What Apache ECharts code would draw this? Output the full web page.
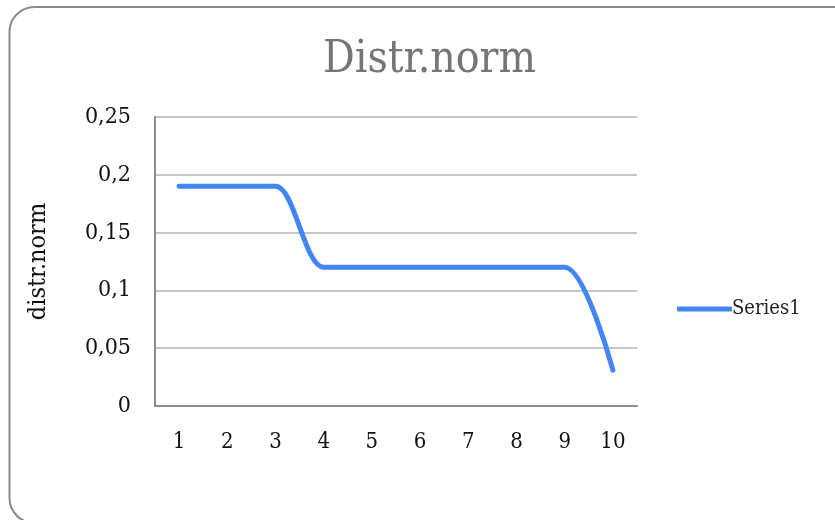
<!DOCTYPE html>
<html>
<head>
<meta charset="utf-8">
<script src="https://cdn.jsdelivr.net/npm/echarts@6/dist/echarts.min.js"></script>
<style>
html,body{margin:0;padding:0;background:#fff;}
#chart{width:835px;height:520px;}
</style>
</head>
<body>
<div id="chart"></div>
<script>
const categories = ['1','2','3','4','5','6','7','8','9','10'];
const seriesName = 'Series1';
const values = [0.19, 0.19, 0.19, 0.12, 0.12, 0.12, 0.12, 0.12, 0.12, 0.031];
const yTicks = [0, 0.05, 0.1, 0.15, 0.2, 0.25];

const serif = "'DejaVu Serif Condensed', 'Liberation Serif', serif";
const chart = echarts.init(document.getElementById('chart'));
chart.setOption({
  animation: false,
  backgroundColor: '#fff',
  graphic: [{
    type: 'rect',
    shape: {x: 9.5, y: 7, width: 860, height: 516, r: 25},
    style: {fill: 'none', stroke: '#888888', lineWidth: 2},
    silent: true
  }],
  title: {
    text: 'Distr.norm',
    left: 323,
    top: 39,
    padding: 0,
    textStyle: {fontFamily: serif, fontSize: 44, fontWeight: 'normal', color: '#757575'}
  },
  legend: {
    data: [seriesName],
    left: 672,
    top: 294,
    itemWidth: 55,
    itemHeight: 5,
    itemGap: 2,
    textStyle: {fontFamily: serif, fontSize: 20, color: '#222', padding: [0,0,0,-5]},
    icon: 'roundRect'
  },
  grid: {left: 155, top: 117, width: 482, height: 289, containLabel: false},
  xAxis: {
    type: 'category',
    data: categories,
    boundaryGap: true,
    axisLine: {lineStyle: {color: '#8c8c8c', width: 2}},
    axisTick: {show: false},
    axisLabel: {fontFamily: serif, fontSize: 22, color: '#111', margin: 25}
  },
  yAxis: {
    type: 'value',
    min: 0, max: 0.25, interval: 0.05,
    name: 'distr.norm',
    nameLocation: 'middle',
    nameGap: 104,
    nameRotate: 90,
    nameTextStyle: {fontFamily: serif, fontSize: 25, color: '#111'},
    axisLine: {show: true, lineStyle: {color: '#8c8c8c', width: 2}},
    axisTick: {show: false},
    axisLabel: {
      fontFamily: serif, fontSize: 23, color: '#111', margin: 24,
      formatter: v => {
        const t = yTicks.find(x => Math.abs(x - v) < 1e-9);
        return String(t !== undefined ? t : Math.round(v * 100) / 100).replace('.', ',');
      }
    },
    splitLine: {lineStyle: {color: '#c6c6c6', width: 2}}
  },
  series: [{
    name: seriesName,
    type: 'line',
    data: values,
    smooth: 0.3,
    showSymbol: false,
    symbol: 'none',
    lineStyle: {color: '#4285f4', width: 5, cap: 'round', join: 'round'},
    itemStyle: {color: '#4285f4'}
  }]
});
</script>
</body>
</html>
